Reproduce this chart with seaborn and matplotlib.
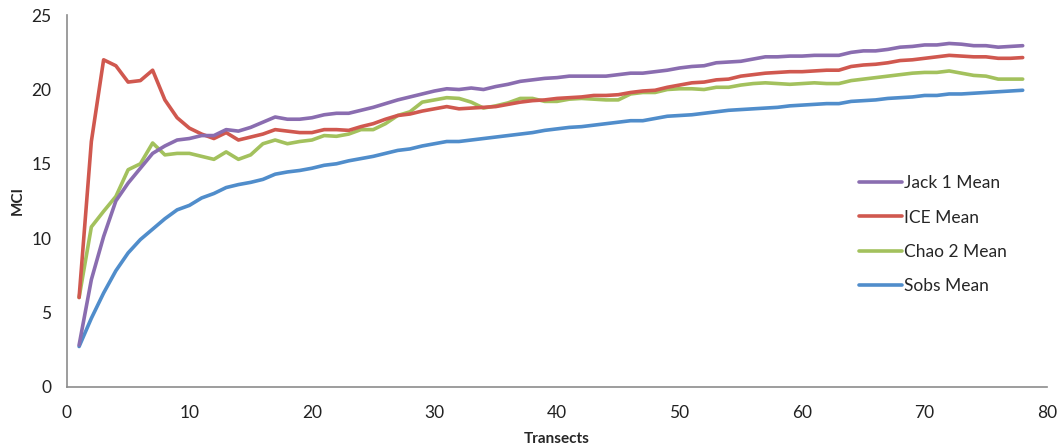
import numpy as np
import pandas as pd
import matplotlib
matplotlib.use('Agg')
import matplotlib.pyplot as plt
import seaborn as sns

transects = list(range(1, 79))

jack1 = [2.8, 7.2, 10.1, 12.5, 13.7, 14.7, 15.7, 16.2, 16.6, 16.7,
         16.9, 16.9, 17.3, 17.2, 17.45, 17.8, 18.15, 18.0, 18.0, 18.1,
         18.3, 18.4, 18.4, 18.6, 18.8, 19.05, 19.3, 19.5, 19.7, 19.9,
         20.05, 20.0, 20.1, 20.0, 20.2, 20.35, 20.55, 20.65, 20.75, 20.8,
         20.9, 20.9, 20.9, 20.9, 21.0, 21.1, 21.1, 21.2, 21.3, 21.45,
         21.55, 21.6, 21.8, 21.85, 21.9, 22.05, 22.2, 22.2, 22.25, 22.25,
         22.3, 22.3, 22.3, 22.5, 22.6, 22.6, 22.7, 22.85, 22.9, 23.0,
         23.0, 23.1, 23.05, 22.95, 22.95, 22.85, 22.9, 22.95]

ice = [6.0, 16.5, 22.0, 21.6, 20.5, 20.6, 21.3, 19.3, 18.1, 17.4,
       17.0, 16.7, 17.1, 16.6, 16.8, 17.0, 17.3, 17.2, 17.1, 17.1,
       17.3, 17.3, 17.25, 17.5, 17.7, 18.0, 18.25, 18.35, 18.55, 18.7,
       18.85, 18.7, 18.75, 18.8, 18.85, 19.0, 19.15, 19.25, 19.3, 19.4,
       19.45, 19.5, 19.6, 19.6, 19.65, 19.8, 19.9, 19.95, 20.15, 20.3,
       20.45, 20.5, 20.65, 20.7, 20.9, 21.0, 21.1, 21.15, 21.2, 21.2,
       21.25, 21.3, 21.3, 21.55, 21.65, 21.7, 21.8, 21.95, 22.0, 22.1,
       22.2, 22.3, 22.25, 22.2, 22.2, 22.1, 22.1, 22.15]

chao2 = [6.0, 10.75, 11.8, 12.8, 14.6, 15.0, 16.4, 15.6, 15.7, 15.7,
         15.5, 15.3, 15.8, 15.3, 15.6, 16.35, 16.6, 16.35, 16.5, 16.6,
         16.9, 16.85, 17.0, 17.3, 17.3, 17.7, 18.25, 18.5, 19.15, 19.3,
         19.45, 19.4, 19.15, 18.75, 18.9, 19.1, 19.4, 19.4, 19.2, 19.2,
         19.35, 19.4, 19.35, 19.3, 19.3, 19.7, 19.8, 19.8, 20.0, 20.05,
         20.05, 20.0, 20.15, 20.15, 20.3, 20.4, 20.45, 20.4, 20.35, 20.4,
         20.45, 20.4, 20.4, 20.6, 20.7, 20.8, 20.9, 21.0, 21.1, 21.15,
         21.15, 21.25, 21.1, 20.95, 20.9, 20.7, 20.7, 20.7]

sobs = [2.7, 4.6, 6.3, 7.8, 9.0, 9.9, 10.6, 11.3, 11.9, 12.2,
        12.7, 13.0, 13.4, 13.6, 13.75, 13.95, 14.3, 14.45, 14.55, 14.7,
        14.9, 15.0, 15.2, 15.35, 15.5, 15.7, 15.9, 16.0, 16.2, 16.35,
        16.5, 16.5, 16.6, 16.7, 16.8, 16.9, 17.0, 17.1, 17.25, 17.35,
        17.45, 17.5, 17.6, 17.7, 17.8, 17.9, 17.9, 18.05, 18.2, 18.25,
        18.3, 18.4, 18.5, 18.6, 18.65, 18.7, 18.75, 18.8, 18.9, 18.95,
        19.0, 19.05, 19.05, 19.2, 19.25, 19.3, 19.4, 19.45, 19.5, 19.6,
        19.6, 19.7, 19.7, 19.75, 19.8, 19.85, 19.9, 19.95]

series_names = ['Jack 1 Mean', 'ICE Mean', 'Chao 2 Mean', 'Sobs Mean']
colors = ['#8A6DB0', '#D0584F', '#A3C15D', '#508DCB']

df = pd.DataFrame({'Transects': transects * 4,
                   'MCI': jack1 + ice + chao2 + sobs,
                   'series': np.repeat(series_names, len(transects))})

sns.set_style('white')
plt.rcParams['font.family'] = ['Lato', 'DejaVu Sans']

fig = plt.figure(figsize=(10.61, 4.48), dpi=100)
ax = fig.add_axes([0.063, 0.137, 0.924, 0.829])

# draw sobs first so the other lines sit on top
for name, col in reversed(list(zip(series_names, colors))):
    sns.lineplot(data=df[df['series'] == name], x='Transects', y='MCI',
                 color=col, linewidth=2.6, ax=ax, label=name,
                 solid_joinstyle='round', solid_capstyle='round')

ax.set_xlim(0, 80)
ax.set_ylim(0, 25)
ax.set_xticks(range(0, 81, 10))
ax.set_yticks(range(0, 26, 5))

gray = '#8C8C8C'
for side in ['top', 'right']:
    ax.spines[side].set_visible(False)
for side in ['left', 'bottom']:
    ax.spines[side].set_color(gray)
    ax.spines[side].set_linewidth(1.2)
ax.tick_params(axis='both', direction='out', length=5, width=1.2,
               color=gray, labelsize=12.5, labelcolor='#222222', pad=6)
ax.tick_params(axis='x', pad=8)

ax.set_xlabel('Transects', fontsize=11, fontweight='bold', labelpad=8)
ax.set_ylabel('MCI', fontsize=11, fontweight='bold', labelpad=5)

handles, labels = ax.get_legend_handles_labels()
order = [labels.index(n) for n in series_names]
ax.legend([handles[i] for i in order], [labels[i] for i in order],
          loc='upper left', bbox_to_anchor=(0.801, 0.628),
          bbox_transform=fig.transFigure, frameon=False, fontsize=12.5,
          handlelength=2.5, handletextpad=0.1, labelspacing=1.05,
          borderpad=0)

fig.savefig('out.png', dpi=100)
